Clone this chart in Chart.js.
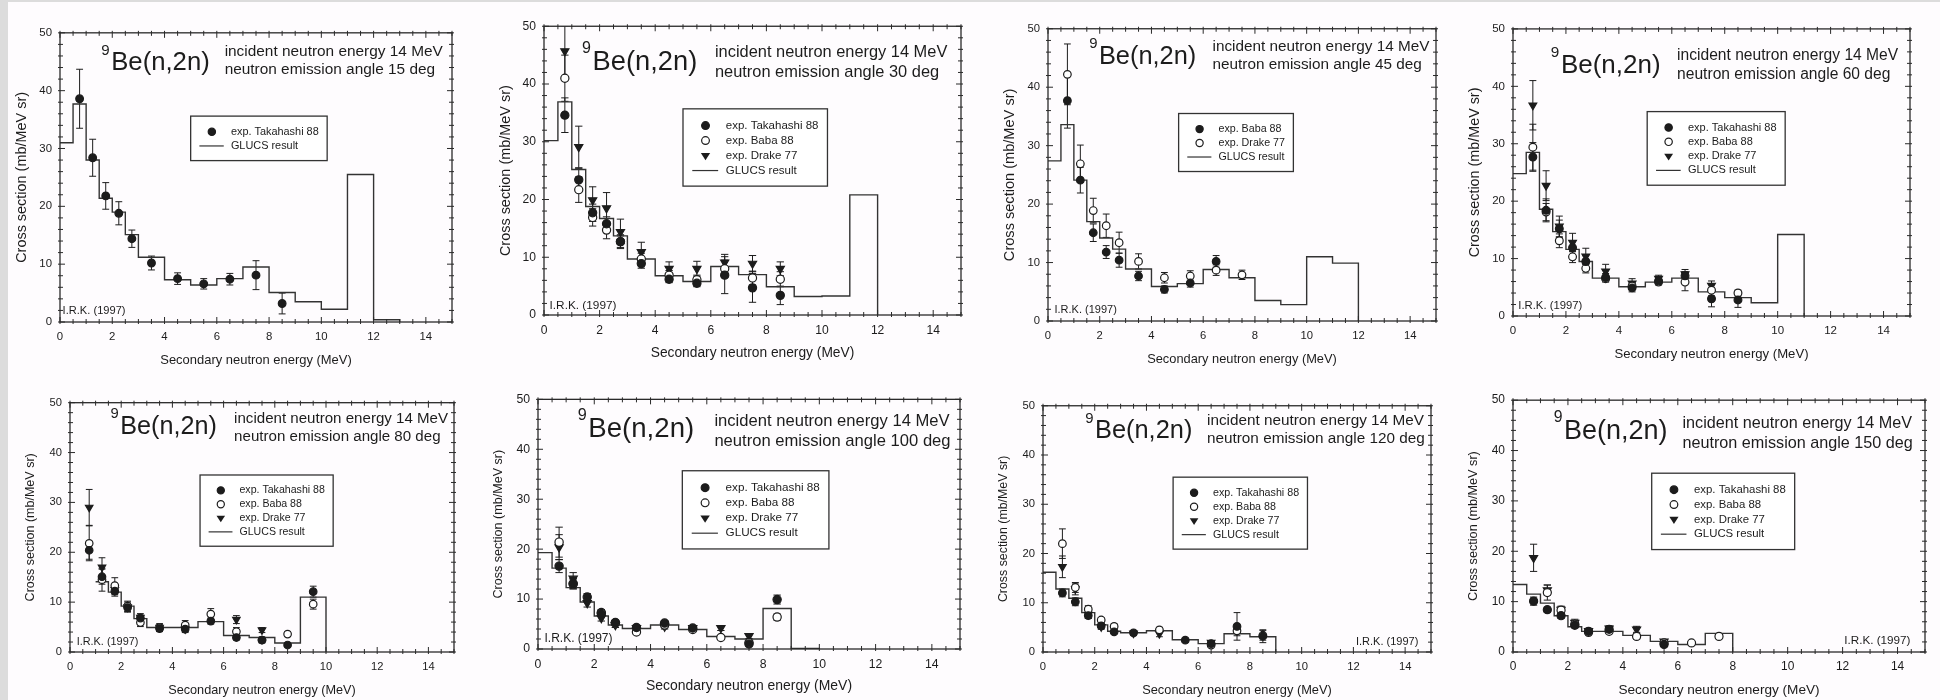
<!DOCTYPE html>
<html>
<head>
<meta charset="utf-8">
<script src="https://cdn.jsdelivr.net/npm/chart.js@4.4.1/dist/chart.umd.min.js"></script>
<style>
html, body { margin: 0; padding: 0; background: #fefcfe; width: 1940px; height: 700px; overflow: hidden; }
#edgeL { position: absolute; left: 0; top: 0; width: 8px; height: 700px; background: #dcdcdc; }
#edgeT { position: absolute; left: 0; top: 0; width: 1940px; height: 2px; background: #dcdcdc; }
canvas { position: absolute; }
</style>
</head>
<body>
<div id="edgeL"></div><div id="edgeT"></div>
<script>
// energies of the experimental points and GLUCS bin edges (MeV)
var xExp = [0.75, 1.25, 1.75, 2.25, 2.75, 3.5, 4.5, 5.5, 6.5, 7.5, 8.5, 9.5];
var binEdges = [0, 0.5, 1, 1.5, 2, 2.5, 3, 4, 5, 6, 7, 8, 9, 10, 11, 12, 13];
var xTickLabels = [0, 2, 4, 6, 8, 10, 12, 14];
var yTickLabels = [0, 10, 20, 30, 40, 50];
var angles = [15, 30, 45, 60, 80, 100, 120, 150];

// 15 deg
var glucs15 = [31.0, 37.7, 28.0, 21.4, 19.0, 15.1, 11.2, 7.3, 6.4, 7.5, 9.5, 5.1, 3.5, 2.2, 25.5, 0.4];
var tak15 = [38.6, 28.4, 21.8, 18.8, 14.4, 10.2, 7.5, 6.6, 7.4, 8.1, 3.2, null];
var takErr15 = [5.1, 3.2, 2.3, 2.0, 1.5, 1.2, 1.0, 0.9, 1.0, 2.5, 1.8, null];

// 30 deg
var glucs30 = [30.2, 36.9, 25.2, 18.8, 16.7, 13.7, 9.7, 6.8, 5.8, 8.4, 7.0, 4.9, 3.2, 3.3, 20.8];
var tak30 = [34.6, 23.4, 17.7, 15.8, 12.7, 8.9, 6.2, 5.5, 6.9, 4.7, 3.4, null];
var takErr30 = [3.0, 2.0, 1.5, 1.2, 1.0, 0.8, 0.6, 0.6, 3.2, 2.5, 1.6, null];
var baba30 = [41.0, 21.7, 16.9, 14.7, 12.7, 9.7, 6.9, 6.1, 8.0, 6.4, 6.2, null];
var babaErr30 = [4.0, 2.2, 1.5, 1.5, 1.2, 1.0, 0.8, 0.8, 1.5, 1.2, 1.3, null];
var drake30 = [45.7, 29.1, 19.9, 18.5, 14.4, 10.9, 8.0, 8.0, 9.1, 8.9, 8.0, null];
var drakeErr30 = [4.4, 3.6, 2.3, 2.7, 2.2, 1.7, 1.2, 1.3, 1.4, 1.4, 1.2, null];

// 45 deg
var glucs45 = [27.4, 33.6, 24.1, 17.0, 14.2, 12.3, 8.9, 5.9, 6.4, 8.8, 7.4, 3.5, 2.8, 11.0, 9.9];
var baba45 = [37.7, 24.1, 15.1, 11.8, 10.4, 7.7, 5.4, 6.5, 10.2, null, null, null];
var babaErr45 = [4.7, 2.2, 1.5, 1.1, 1.2, 0.8, 0.6, 0.7, 1.0, null, null, null];
var drake45 = [42.2, 26.9, 18.9, 16.3, 13.4, 10.2, 7.4, 7.7, 8.7, 7.9, null, null];
var drakeErr45 = [5.2, 3.2, 2.1, 2.0, 1.8, 1.3, 0.9, 0.9, 0.9, 0.8, null, null];

// 60 deg
var glucs60 = [24.8, 28.5, 18.6, 14.7, 11.6, 9.5, 6.6, 5.1, 5.9, 6.6, 4.2, 3.2, 2.3, 14.2];
var tak60 = [27.7, 18.4, 15.2, 11.9, 9.5, 6.7, 4.9, 6.1, 7.0, 3.0, 2.8, null];
var takErr60 = [2.5, 2.0, 1.5, 1.2, 1.0, 0.7, 0.7, 0.6, 0.7, 1.4, 1.3, null];
var baba60 = [29.4, 18.1, 13.1, 10.3, 8.3, 6.5, 5.2, 5.9, 5.9, 4.5, 4.0, null];
var babaErr60 = [4.0, 1.5, 1.2, 1.0, 0.8, 0.6, 0.5, 0.5, 1.5, 1.0, 0.5, null];
var drake60 = [36.7, 22.7, 15.6, 12.8, 10.4, 7.8, 5.7, 6.5, 7.3, 5.3, null, null];
var drakeErr60 = [4.3, 2.6, 1.8, 1.6, 1.4, 1.2, 0.8, 0.6, 0.8, 0.8, null, null];

// 80 deg
var glucs80 = [null, null, 14.1, 12.0, 9.2, 6.7, 4.9, 4.9, 6.1, 3.3, 2.9, 1.8, 11.0];
var tak80 = [20.4, 15.1, 12.2, 8.9, 6.8, 4.7, 4.6, 6.2, 2.9, 2.4, 1.4, 12.1];
var takErr80 = [1.8, 1.5, 1.0, 0.8, 0.6, 0.6, 0.5, 0.6, 0.5, 0.4, 0.3, 1.1];
var baba80 = [21.8, 14.5, 13.3, 9.2, 5.9, 4.9, 5.4, 7.6, 4.1, 2.4, 3.6, 9.6];
var babaErr80 = [3.5, 2.3, 1.6, 1.0, 0.8, 0.6, 0.9, 1.1, 0.8, 0.6, 0.5, 1.0];
var drake80 = [29.0, 17.0, 12.5, 9.0, 6.9, 4.9, 4.6, null, 6.5, 4.4, null, null];
var drakeErr80 = [3.6, 1.9, 1.0, 1.0, 0.8, 0.8, 0.7, null, 0.8, 0.5, null, null];

// 100 deg
var glucs100 = [19.3, 16.2, 12.3, 9.4, 6.6, 4.8, 4.1, 4.8, 3.9, 2.5, 2.0, 8.1, 0.1];
var tak100 = [16.6, 13.1, 10.4, 7.1, 5.3, 4.3, 5.2, 4.2, null, 1.0, 9.9, null];
var takErr100 = [1.3, 1.0, 0.7, 0.6, 0.5, 0.5, 0.5, 0.5, null, 0.4, 0.9, null];
var baba100 = [21.4, 13.0, null, 7.3, 5.2, 3.4, 4.8, 3.9, 2.3, 1.3, 6.4, null];
var babaErr100 = [3.0, 1.0, null, 0.6, 0.5, 0.4, 0.5, 0.4, 0.4, 0.4, 0.6, null];
var drake100 = [20.4, 14.1, 9.2, 6.2, 4.8, 4.2, 4.5, 4.2, 4.2, 2.6, null, null];
var drakeErr100 = [2.5, 1.2, 0.8, 0.6, 0.5, 0.5, 0.5, 0.5, 0.5, 0.5, null, null];

// 120 deg
var glucs120 = [16.2, 12.8, 10.9, 8.0, 5.5, 4.2, 3.9, 4.3, 2.5, 1.7, 3.7, 3.1];
var tak120 = [12.0, 10.2, 7.4, 5.3, 4.1, 3.9, null, 2.4, 1.7, 5.2, 3.2, null];
var takErr120 = [0.8, 0.8, 0.6, 0.5, 0.4, 0.4, null, 0.4, 0.4, 2.8, 1.3, null];
var baba120 = [22.0, 13.1, 8.7, 6.5, 5.2, null, 4.5, null, 1.4, 4.3, 3.4, null];
var babaErr120 = [3.0, 1.0, 0.7, 0.5, 0.5, null, 0.5, null, 0.4, 1.0, 1.0, null];
var drake120 = [17.3, 12.8, 7.6, 5.1, null, 3.8, 3.7, null, 1.9, null, null, null];
var drakeErr120 = [2.2, 1.2, 0.8, 0.5, null, 0.4, 0.6, null, 0.4, null, null, null];

// 150 deg
var glucs150 = [13.4, 11.5, 9.7, 7.2, 5.0, 4.1, 4.1, 3.3, 2.1, 1.5, 3.7];
var tak150 = [10.1, 8.4, 7.2, 5.3, 4.1, 4.5, null, 1.5, null, null, null, null];
var takErr150 = [0.8, 0.5, 0.5, 0.5, 0.4, 0.4, null, 0.4, null, null, null, null];
var baba150 = [null, 11.8, 8.3, 5.5, 3.9, 4.1, 3.1, 1.8, 1.8, 3.1, null, null];
var babaErr150 = [null, 1.5, 0.7, 0.5, 0.4, 0.4, 0.5, 0.4, 0.3, 0.3, null, null];
var drake150 = [18.7, 12.3, 8.4, 5.8, 4.2, 4.7, 4.5, 2.1, null, null, null, null];
var drakeErr150 = [2.7, 1.0, 0.7, 0.7, 0.5, 0.5, 0.6, 0.4, null, null, null, null];

var panelGlucs = [glucs15, glucs30, glucs45, glucs60, glucs80, glucs100, glucs120, glucs150];
var panelSeries = [
    [['exp. Takahashi 88', 'filled', tak15, takErr15]],
    [['exp. Takahashi 88', 'filled', tak30, takErr30], ['exp. Baba 88', 'open', baba30, babaErr30], ['exp. Drake 77', 'tri', drake30, drakeErr30]],
    [['exp. Baba 88', 'filled', baba45, babaErr45], ['exp. Drake 77', 'open', drake45, drakeErr45]],
    [['exp. Takahashi 88', 'filled', tak60, takErr60], ['exp. Baba 88', 'open', baba60, babaErr60], ['exp. Drake 77', 'tri', drake60, drakeErr60]],
    [['exp. Takahashi 88', 'filled', tak80, takErr80], ['exp. Baba 88', 'open', baba80, babaErr80], ['exp. Drake 77', 'tri', drake80, drakeErr80]],
    [['exp. Takahashi 88', 'filled', tak100, takErr100], ['exp. Baba 88', 'open', baba100, babaErr100], ['exp. Drake 77', 'tri', drake100, drakeErr100]],
    [['exp. Takahashi 88', 'filled', tak120, takErr120], ['exp. Baba 88', 'open', baba120, babaErr120], ['exp. Drake 77', 'tri', drake120, drakeErr120]],
    [['exp. Takahashi 88', 'filled', tak150, takErr150], ['exp. Baba 88', 'open', baba150, babaErr150], ['exp. Drake 77', 'tri', drake150, drakeErr150]]
];

// layout: plot area [left, top, right, bottom] in page pixels, label anchors in data units
var panelAreas = [
    [60, 21, 457, 322], [544, 14, 966, 315], [1048, 17, 1441, 321], [1513, 17, 1915, 316],
    [70, 391, 459, 652], [538, 387, 965, 649], [1043, 394, 1436, 652], [1513, 388, 1930, 652]
];
var panelLabelPos = [
    { be: [1.58, 43.5], info: [6.3, 46.0], legend: [5.0, 35.6], irk: [0.1, 1.3] },
    { be: [1.37, 42.4], info: [6.15, 44.6], legend: [5.0, 35.7], irk: [0.2, 1.1] },
    { be: [1.59, 44.0], info: [6.36, 46.2], legend: [5.05, 35.5], irk: [0.25, 1.3] },
    { be: [1.43, 42.3], info: [6.2, 44.5], legend: [5.07, 35.6], irk: [0.2, 1.3] },
    { be: [1.58, 43.8], info: [6.41, 46.0], legend: [5.08, 35.5], irk: [0.26, 1.4] },
    { be: [1.41, 42.4], info: [6.27, 44.6], legend: [5.13, 35.7], irk: [0.23, 1.5] },
    { be: [1.63, 43.4], info: [6.34, 46.1], legend: [5.03, 35.5], irk: [12.1, 1.5] },
    { be: [1.48, 42.3], info: [6.17, 44.4], legend: [5.05, 35.5], irk: [12.06, 1.6] }
];

var ink = '#1c1c1c';
var family = "'Liberation Sans', Arial, sans-serif";
var Y_AXIS_W = 47, X_AXIS_H = 46, PAD = 3;

function font(size) { return size.toFixed(1) + 'px ' + family; }

function stepPoints(vals) {
    var pts = [];
    for (var i = 0; i < vals.length; i++) {
        if (vals[i] !== null) pts.push({ x: binEdges[i], y: vals[i] });
    }
    pts.push({ x: binEdges[vals.length], y: vals[vals.length - 1] });
    pts.push({ x: binEdges[vals.length], y: 0 });
    return pts;
}

function expPoints(vals, errs) {
    var pts = [];
    vals.forEach(function (v, i) {
        if (v !== null) pts.push({ x: xExp[i], y: v, e: errs[i] || 0 });
    });
    return pts;
}

function drawMarker(ctx, style, x, y, r) {
    ctx.beginPath();
    if (style === 'tri') {
        var s = r * 1.2;
        ctx.moveTo(x - s, y - s * 0.55);
        ctx.lineTo(x + s, y - s * 0.55);
        ctx.lineTo(x, y + s);
        ctx.closePath();
        ctx.fillStyle = ink;
        ctx.fill();
    } else {
        ctx.arc(x, y, r, 0, 2 * Math.PI);
        ctx.fillStyle = style === 'open' ? '#fff' : ink;
        ctx.fill();
        ctx.lineWidth = 1.2;
        ctx.strokeStyle = ink;
        ctx.stroke();
    }
}

function makePanel(k) {
    var a = panelAreas[k], pos = panelLabelPos[k], series = panelSeries[k];
    var areaW = a[2] - a[0], areaH = a[3] - a[1];
    var unit = areaW / 15;
    var cv = document.createElement('canvas');
    cv.width = areaW + Y_AXIS_W + PAD;
    cv.height = areaH + PAD + X_AXIS_H;
    cv.style.left = (a[0] - Y_AXIS_W) + 'px';
    cv.style.top = (a[1] - PAD) + 'px';
    document.body.appendChild(cv);

    var r = 0.145 * unit;
    var datasets = [{
        label: 'GLUCS result',
        data: stepPoints(panelGlucs[k]),
        // Chart.js 'before': hold the previous value, then jump at the next edge
        stepped: 'before',
        borderColor: '#333',
        borderWidth: 1.4,
        pointRadius: 0,
        fill: false,
        order: 5
    }];
    series.forEach(function (s) {
        datasets.push({
            label: s[0],
            data: expPoints(s[2], s[3]),
            showLine: false,
            errorBars: true,
            pointStyle: s[1] === 'tri' ? 'triangle' : 'circle',
            pointRotation: s[1] === 'tri' ? 180 : 0,
            pointRadius: s[1] === 'tri' ? r * 1.15 : r,
            pointBackgroundColor: s[1] === 'open' ? '#fff' : ink,
            pointBorderColor: ink,
            pointBorderWidth: 1.2,
            order: 0
        });
    });

    var decor = {
        id: 'decor' + k,
        beforeDatasetsDraw: function (chart) {
            var ctx = chart.ctx, xs = chart.scales.x, ys = chart.scales.y, ar = chart.chartArea;
            var cap = 0.13 * unit;
            ctx.save();
            ctx.beginPath();
            ctx.rect(ar.left, ar.top, ar.right - ar.left, ar.bottom - ar.top);
            ctx.clip();
            ctx.strokeStyle = ink;
            ctx.lineWidth = 1;
            chart.data.datasets.forEach(function (ds) {
                if (!ds.errorBars) return;
                ds.data.forEach(function (d) {
                    if (!d.e) return;
                    var px = xs.getPixelForValue(d.x);
                    var y1 = ys.getPixelForValue(d.y + d.e), y2 = ys.getPixelForValue(d.y - d.e);
                    ctx.beginPath();
                    ctx.moveTo(px, y1); ctx.lineTo(px, y2);
                    ctx.moveTo(px - cap, y1); ctx.lineTo(px + cap, y1);
                    ctx.moveTo(px - cap, y2); ctx.lineTo(px + cap, y2);
                    ctx.stroke();
                });
            });
            ctx.restore();
        },
        afterDatasetsDraw: function (chart) {
            var ctx = chart.ctx, xs = chart.scales.x, ys = chart.scales.y;
            ctx.save();
            ctx.fillStyle = ink;
            ctx.textAlign = 'left';
            ctx.textBaseline = 'alphabetic';

            // reaction label with superscript mass number
            var beSize = 0.97 * unit;
            var bx = xs.getPixelForValue(pos.be[0]), by = ys.getPixelForValue(pos.be[1]);
            ctx.font = font(0.57 * unit);
            ctx.fillText('9', bx, by - 0.62 * beSize);
            var w9 = ctx.measureText('9').width;
            ctx.font = font(beSize);
            ctx.fillText('Be(n,2n)', bx + w9 + 0.06 * beSize, by);

            // condition text
            var infoSize = 0.583 * unit;
            var ix = xs.getPixelForValue(pos.info[0]), iy = ys.getPixelForValue(pos.info[1]);
            ctx.font = font(infoSize);
            ctx.fillText('incident neutron energy 14 MeV', ix, iy);
            ctx.fillText('neutron emission angle ' + angles[k] + ' deg', ix, iy + 1.2 * infoSize);

            // legend box
            var lf = 0.41 * unit;
            ctx.font = font(lf);
            var labels = series.map(function (s) { return s[0]; }).concat(['GLUCS result']);
            var maxW = 0;
            labels.forEach(function (t) { maxW = Math.max(maxW, ctx.measureText(t).width); });
            var lx = xs.getPixelForValue(pos.legend[0]), ly = ys.getPixelForValue(pos.legend[1]);
            var tx = lx + 1.52 * unit, mx = lx + 0.8 * unit;
            var first = ly + 1.45 * lf, step = 1.3 * lf;
            var bottom = first + (labels.length - 1) * step + 1.35 * lf;
            var rx = tx + maxW + 0.32 * unit;
            ctx.fillStyle = '#fff';
            ctx.fillRect(lx, ly, rx - lx, bottom - ly);
            ctx.strokeStyle = '#333';
            ctx.lineWidth = 1.3;
            ctx.strokeRect(lx, ly, rx - lx, bottom - ly);
            ctx.textBaseline = 'middle';
            series.forEach(function (s, i) {
                var yy = first + i * step;
                drawMarker(ctx, s[1], mx, yy, r * 0.95);
                ctx.fillStyle = ink;
                ctx.fillText(s[0], tx, yy);
            });
            var gy = first + series.length * step;
            ctx.beginPath();
            ctx.strokeStyle = '#333';
            ctx.lineWidth = 1.2;
            ctx.moveTo(mx - 0.47 * unit, gy);
            ctx.lineTo(mx + 0.45 * unit, gy);
            ctx.stroke();
            ctx.fillStyle = ink;
            ctx.fillText('GLUCS result', tx, gy);

            // author tag
            ctx.textBaseline = 'alphabetic';
            ctx.font = font(0.42 * unit);
            ctx.fillText('I.R.K. (1997)', xs.getPixelForValue(pos.irk[0]), ys.getPixelForValue(pos.irk[1]));
            ctx.restore();
        },
        afterDraw: function (chart) {
            var ctx = chart.ctx, xs = chart.scales.x, ys = chart.scales.y, ar = chart.chartArea;
            ctx.save();
            ctx.strokeStyle = '#2a2a2a';
            ctx.lineWidth = 1.3;
            ctx.strokeRect(ar.left, ar.top, ar.right - ar.left, ar.bottom - ar.top);
            ctx.lineWidth = 1;
            ctx.beginPath();
            xs.ticks.forEach(function (tk) {
                var px = xs.getPixelForValue(tk.value);
                var len = xTickLabels.indexOf(tk.value) >= 0 ? 5 : 3;
                ctx.moveTo(px, ar.bottom + 2); ctx.lineTo(px, ar.bottom - len);
                ctx.moveTo(px, ar.top - 2); ctx.lineTo(px, ar.top + len);
            });
            ys.ticks.forEach(function (tk) {
                var py = ys.getPixelForValue(tk.value);
                var len = yTickLabels.indexOf(tk.value) >= 0 ? 5 : 3;
                ctx.moveTo(ar.left - 2, py); ctx.lineTo(ar.left + len, py);
                ctx.moveTo(ar.right + 2, py); ctx.lineTo(ar.right - len, py);
            });
            ctx.stroke();
            ctx.restore();
        }
    };

    return new Chart(cv.getContext('2d'), {
        type: 'line',
        data: { datasets: datasets },
        options: {
            responsive: false,
            animation: false,
            devicePixelRatio: 1,
            events: [],
            layout: { padding: { top: PAD, right: PAD, left: 0, bottom: 0 } },
            plugins: { legend: { display: false }, tooltip: { enabled: false } },
            scales: {
                x: {
                    type: 'linear',
                    min: 0,
                    max: 15,
                    grid: { display: false, drawTicks: false },
                    border: { display: false },
                    ticks: {
                        stepSize: 0.5,
                        autoSkip: false,
                        maxRotation: 0,
                        padding: 8,
                        color: ink,
                        font: { family: family, size: 0.43 * unit },
                        callback: function (v) { return xTickLabels.indexOf(v) >= 0 ? String(v) : ''; }
                    },
                    title: {
                        display: true,
                        text: 'Secondary neutron energy (MeV)',
                        color: ink,
                        padding: 0,
                        font: { family: family, size: 0.49 * unit }
                    },
                    afterFit: function (s) { s.height = X_AXIS_H; }
                },
                y: {
                    type: 'linear',
                    min: 0,
                    max: 50,
                    grid: { display: false, drawTicks: false },
                    border: { display: false },
                    ticks: {
                        stepSize: 2,
                        autoSkip: false,
                        padding: 8,
                        color: ink,
                        font: { family: family, size: 0.43 * unit },
                        callback: function (v) { return yTickLabels.indexOf(v) >= 0 ? String(v) : ''; }
                    },
                    title: {
                        display: true,
                        text: 'Cross section (mb/MeV sr)',
                        color: ink,
                        padding: 0,
                        font: { family: family, size: 0.048 * areaH }
                    },
                    afterFit: function (s) { s.width = Y_AXIS_W; }
                }
            }
        },
        plugins: [decor]
    });
}

for (var k = 0; k < panelAreas.length; k++) {
    makePanel(k);
}
</script>
</body>
</html>
